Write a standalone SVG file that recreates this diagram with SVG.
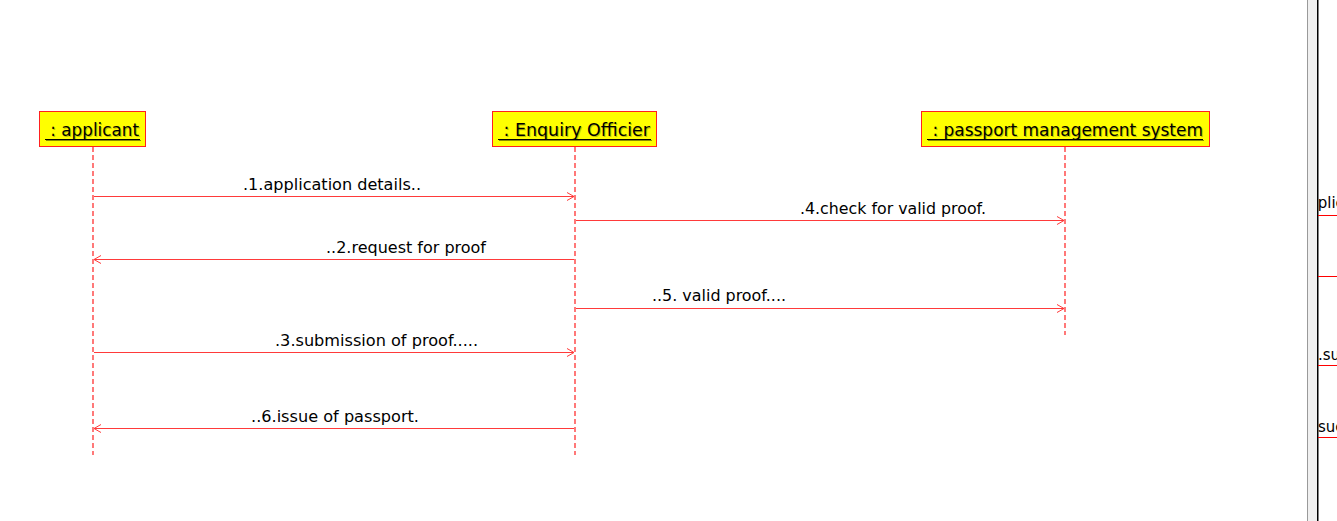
<svg xmlns="http://www.w3.org/2000/svg" width="1337" height="521" viewBox="0 0 1337 521">
<style>
.box{fill:#ffff00;stroke:#ff2020;stroke-width:1}
.hdr{font-family:"DejaVu Sans",Verdana,sans-serif;font-size:17px;fill:#000}
.sh{fill:#9a9a00;opacity:.6}
.ul{stroke:#000;stroke-width:1}
.uls{stroke:#8a8a00;stroke-width:1}
.life{stroke:#ff2020;stroke-width:1.2;stroke-dasharray:5 3;fill:none}
.msg{stroke:#ff3a3a;stroke-width:1;fill:none}
.lbl{font-family:"DejaVu Sans",Verdana,sans-serif;font-size:16px;fill:#000}
.frag{font-family:"DejaVu Sans",Verdana,sans-serif;font-size:15px;fill:#000}
</style>
<defs>
<marker id="ah" markerWidth="10" markerHeight="10" refX="8" refY="5" orient="auto" markerUnits="userSpaceOnUse">
<path d="M1,1 L8,5 L1,9" fill="none" stroke="#ff3a3a" stroke-width="1"/>
</marker>
<clipPath id="rc"><rect x="1318" y="0" width="19" height="521"/></clipPath>
</defs>
<rect width="1337" height="521" fill="#fff"/>

<g id="applicant">
<rect class="box" x="39.5" y="111.5" width="106" height="35"/>
<text class="hdr sh" x="46" y="137" textLength="94" lengthAdjust="spacingAndGlyphs" xml:space="preserve"> : applicant</text>
<text class="hdr" x="45" y="136" textLength="94" lengthAdjust="spacingAndGlyphs" xml:space="preserve"> : applicant</text>
<line class="ul" x1="45" y1="139.5" x2="140" y2="139.5"/>
<line class="uls" x1="46" y1="140.5" x2="141" y2="140.5"/>
</g>

<g id="enquiry-officier">
<rect class="box" x="492.5" y="111.5" width="164" height="35"/>
<text class="hdr sh" x="499" y="137" textLength="152" lengthAdjust="spacingAndGlyphs" xml:space="preserve"> : Enquiry Officier</text>
<text class="hdr" x="498" y="136" textLength="152" lengthAdjust="spacingAndGlyphs" xml:space="preserve"> : Enquiry Officier</text>
<line class="ul" x1="498" y1="139.5" x2="651" y2="139.5"/>
<line class="uls" x1="499" y1="140.5" x2="652" y2="140.5"/>
</g>

<g id="passport-management-system">
<rect class="box" x="921.5" y="111.5" width="288" height="35"/>
<text class="hdr sh" x="928" y="137" textLength="276" lengthAdjust="spacingAndGlyphs" xml:space="preserve"> : passport management system</text>
<text class="hdr" x="927" y="136" textLength="276" lengthAdjust="spacingAndGlyphs" xml:space="preserve"> : passport management system</text>
<line class="ul" x1="927" y1="139.5" x2="1203" y2="139.5"/>
<line class="uls" x1="928" y1="140.5" x2="1204" y2="140.5"/>
</g>

<g id="connectors">
<line class="life" x1="93" y1="147" x2="93" y2="455"/>
<line class="life" x1="575" y1="147" x2="575" y2="455"/>
<line class="life" x1="1065" y1="147" x2="1065" y2="335"/>

<line class="msg" x1="94" y1="196.5" x2="574" y2="196.5" marker-end="url(#ah)"/>
<text class="lbl" x="243" y="190" textLength="178" lengthAdjust="spacingAndGlyphs">.1.application details..</text>

<line class="msg" x1="576" y1="220.5" x2="1064" y2="220.5" marker-end="url(#ah)"/>
<text class="lbl" x="800" y="214" textLength="186" lengthAdjust="spacingAndGlyphs">.4.check for valid proof.</text>

<line class="msg" x1="574" y1="259.5" x2="94" y2="259.5" marker-end="url(#ah)"/>
<text class="lbl" x="326" y="253" textLength="160" lengthAdjust="spacingAndGlyphs">..2.request for proof</text>

<line class="msg" x1="576" y1="308.5" x2="1064" y2="308.5" marker-end="url(#ah)"/>
<text class="lbl" x="652" y="301" textLength="134" lengthAdjust="spacingAndGlyphs">..5. valid proof....</text>

<line class="msg" x1="94" y1="352.5" x2="574" y2="352.5" marker-end="url(#ah)"/>
<text class="lbl" x="275" y="346" textLength="203" lengthAdjust="spacingAndGlyphs">.3.submission of proof.....</text>

<line class="msg" x1="574" y1="428.5" x2="94" y2="428.5" marker-end="url(#ah)"/>
<text class="lbl" x="251" y="422" textLength="168" lengthAdjust="spacingAndGlyphs">..6.issue of passport.</text>
</g>

<rect x="1307" y="0" width="1" height="521" fill="#9a9a9a"/>
<rect x="1308" y="0" width="9" height="521" fill="#f0f0f0"/>
<rect x="1317" y="0" width="1.5" height="521" fill="#000"/>
<g clip-path="url(#rc)">
<text class="frag" x="1299" y="208">application</text>
<line x1="1318" y1="215.5" x2="1337" y2="215.5" stroke="#ff0000"/>
<line x1="1318" y1="276.5" x2="1337" y2="276.5" stroke="#ff0000"/>
<text class="frag" x="1318" y="360">.sub</text>
<line x1="1318" y1="365.5" x2="1337" y2="365.5" stroke="#ff0000"/>
<text class="frag" x="1318" y="432">succ</text>
<line x1="1318" y1="437.5" x2="1337" y2="437.5" stroke="#ff0000"/>
</g>
</svg>
